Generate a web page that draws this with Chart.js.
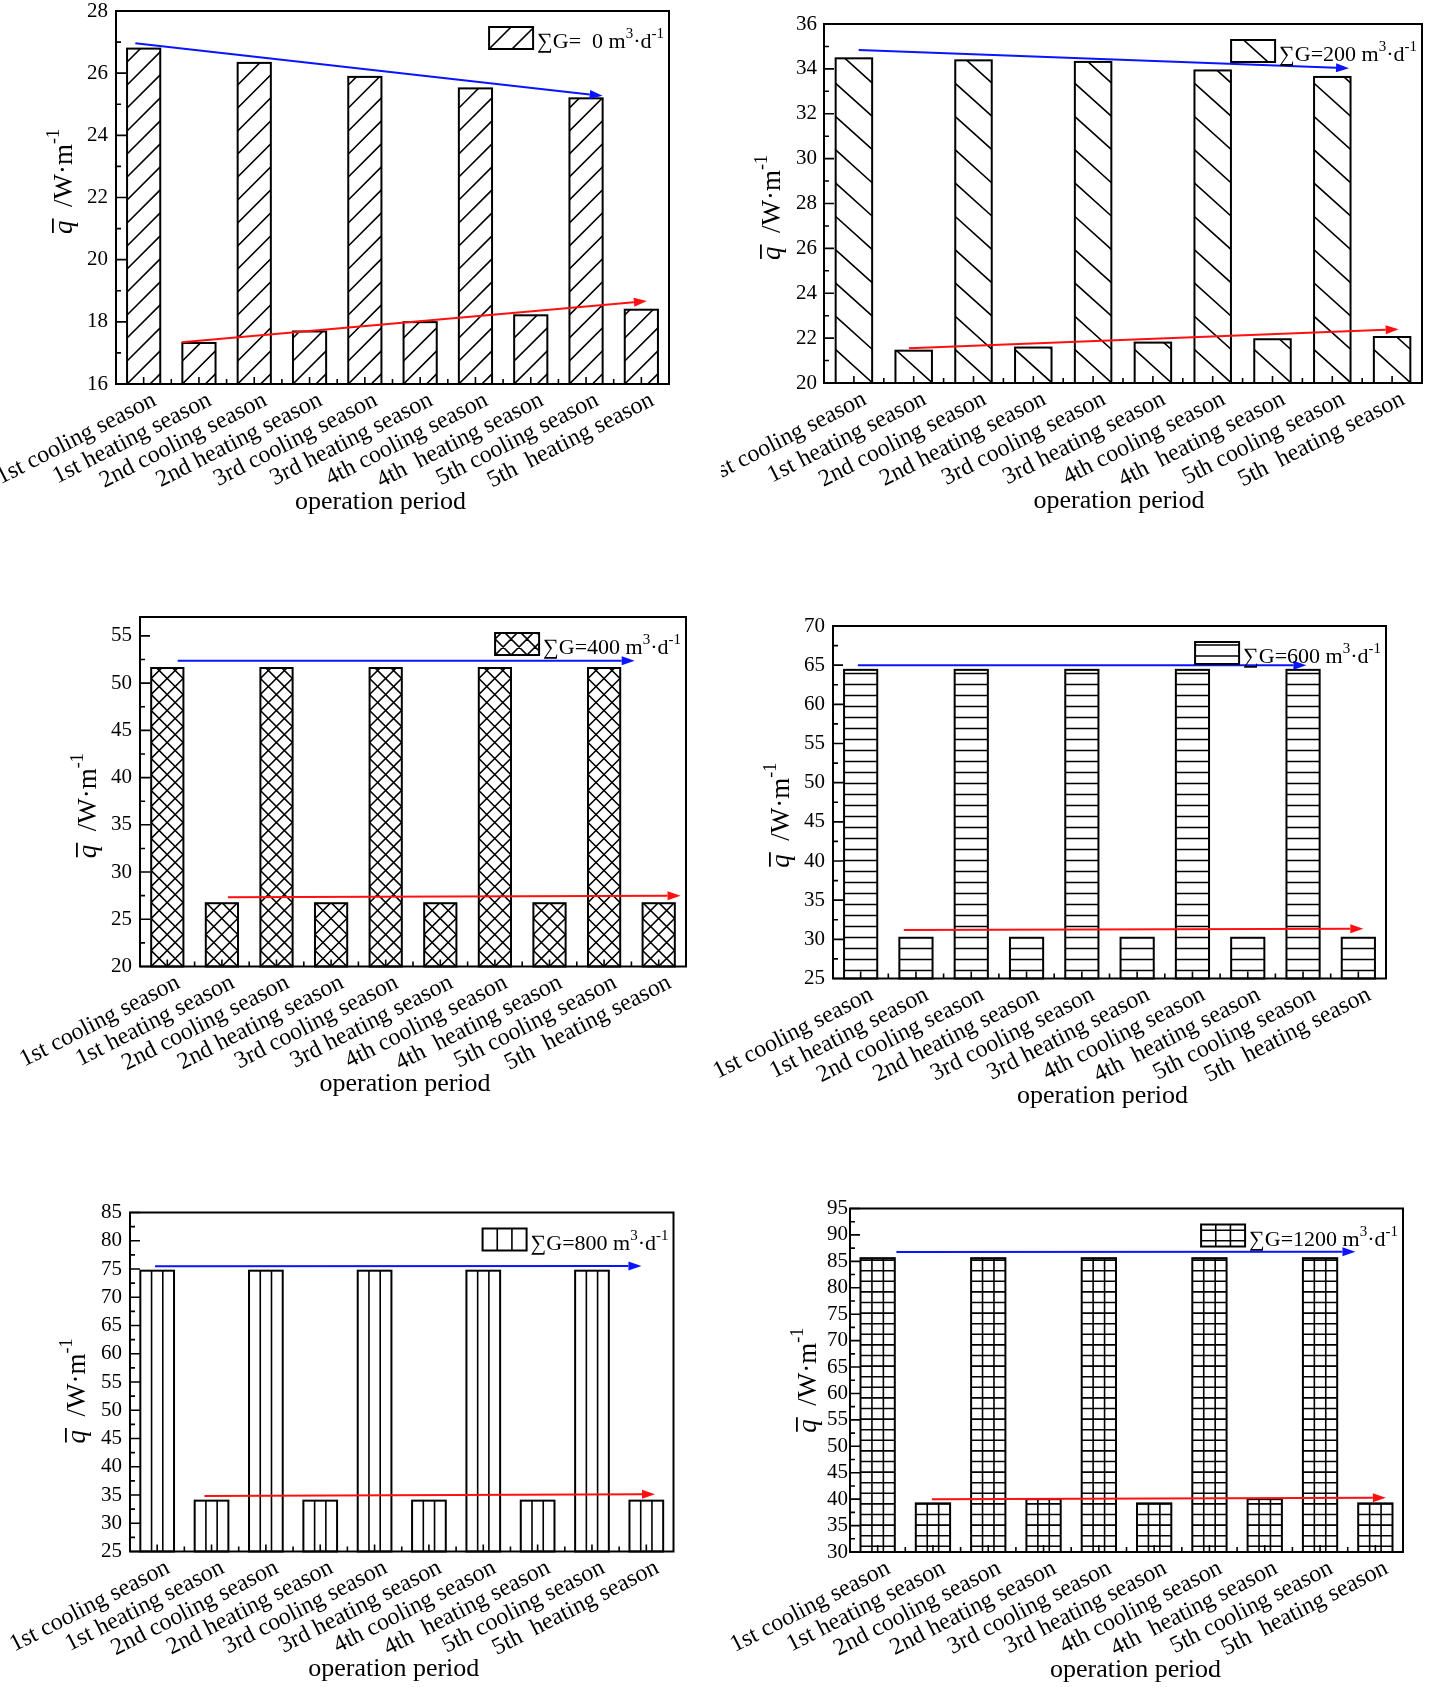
<!DOCTYPE html>
<html><head><meta charset="utf-8">
<script src="https://cdn.jsdelivr.net/npm/chart.js@4/dist/chart.umd.min.js"></script>
<style>
html,body{margin:0;padding:0;background:#fff;}
body{width:1431px;height:1687px;position:relative;overflow:hidden;}
canvas{position:absolute;}
</style></head><body>
<canvas id="c1"></canvas><canvas id="c2"></canvas><canvas id="c3"></canvas>
<canvas id="c4"></canvas><canvas id="c5"></canvas><canvas id="c6"></canvas>
<script>
// ---------------- DATA ----------------
const categories = ['1st cooling season','1st heating season','2nd cooling season','2nd heating season','3rd cooling season','3rd heating season','4th cooling season','4th  heating season','5th cooling season','5th  heating season'];

const values0    = [26.79,17.32,26.33,17.69,25.88,17.99,25.51,18.21,25.19,18.39];
const values200  = [34.47,21.44,34.38,21.58,34.31,21.80,33.93,21.95,33.64,22.05];
const values400  = [51.6,26.7,51.6,26.7,51.6,26.7,51.6,26.7,51.6,26.7];
const values600  = [64.4,30.2,64.4,30.2,64.4,30.2,64.4,30.2,64.4,30.2];
const values800  = [74.7,34.0,74.7,34.0,74.7,34.0,74.7,34.0,74.7,34.0];
const values1200 = [85.6,39.2,85.6,40.0,85.6,39.2,85.6,40.0,85.6,39.2];

const yTicks0    = [16,18,20,22,24,26,28];
const yTicks200  = [20,22,24,26,28,30,32,34,36];
const yTicks400  = [20,25,30,35,40,45,50,55];
const yTicks600  = [25,30,35,40,45,50,55,60,65,70];
const yTicks800  = [25,30,35,40,45,50,55,60,65,70,75,80,85];
const yTicks1200 = [30,35,40,45,50,55,60,65,70,75,80,85,90,95];

const yRange0 = [16,28], yRange200 = [20,36], yRange400 = [20,57],
      yRange600 = [25,70], yRange800 = [25,85], yRange1200 = [30,95];

const legendG = ['∑G=  0','∑G=200','∑G=400','∑G=600','∑G=800','∑G=1200'];
const legendUnit = [' m','3','·d','-1'];
const xTitle = 'operation period';
const yTitle = ['q','  /W·m','-1'];

// trend arrows: [category index start, value start, category index end, value end]
const blueArrow0 = [-0.15,26.96,8.30,25.27],  redArrow0 = [0.69,17.34,9.10,18.67];
const blueArrow200 = [0.08,34.84,8.28,34.03], redArrow200 = [0.92,21.55,9.11,22.40];
const blueArrow400 = [0.19,52.37,8.56,52.37], redArrow400 = [1.11,27.32,9.40,27.50];
const blueArrow600 = [-0.05,64.98,8.06,65.0], redArrow600 = [0.78,31.19,9.09,31.36];
const blueArrow800 = [-0.04,75.48,8.91,75.55],redArrow800 = [0.87,34.82,9.16,35.12];
const blueArrow1200= [0.34,86.76,8.64,86.80], redArrow1200= [0.98,39.97,9.19,40.27];

// ---------------- LAYOUT / STYLE ----------------
const FONT = '"Liberation Serif","Times New Roman",serif';
const Y_W = 45, X_H = 108;
const panels = [
 {id:'c1', canvas:[0,0,705,560],     area:[116,11,669,384],      values:values0,   yr:yRange0,   ticks:yTicks0,   pattern:'fwd',   legend:legendG[0], blue:blueArrow0,   red:redArrow0,   yT:[-44,-16], xT:-12, bp:0.60, tp:8},
 {id:'c2', canvas:[721,0,710,560],   area:[824,24,1422,383],     values:values200, yr:yRange200, ticks:yTicks200, pattern:'back',  legend:legendG[1], blue:blueArrow200, red:redArrow200, yT:[-44,4],   xT:-4,  bp:0.61, tp:7},
 {id:'c3', canvas:[0,560,705,580],   area:[140,617,686,966.5],   values:values400, yr:yRange400, ticks:yTicks400, pattern:'cross', legend:legendG[2], blue:blueArrow400, red:redArrow400, yT:[-44,14],  xT:-8,  bp:0.59, tp:8},
 {id:'c4', canvas:[700,560,731,580], area:[833,626,1386,978.5],  values:values600, yr:yRange600, ticks:yTicks600, pattern:'hline', legend:legendG[3], blue:blueArrow600, red:redArrow600, yT:[-44,13],  xT:-7,  bp:0.60, tp:8},
 {id:'c5', canvas:[0,1140,705,547],  area:[130,1212.5,673.5,1551.5], values:values800, yr:yRange800, ticks:yTicks800, pattern:'vline', legend:legendG[4], blue:blueArrow800, red:redArrow800, yT:[-45,9], xT:-8, bp:0.62, tp:8},
 {id:'c6', canvas:[700,1140,731,547],area:[850,1208.5,1403,1552], values:values1200,yr:yRange1200,ticks:yTicks1200,pattern:'grid', legend:legendG[5], blue:blueArrow1200,red:redArrow1200,yT:[-34,0],  xT:9,   bp:0.62, tp:2}
];

function drawPattern(ctx, type, l, t, r, b, anchorB) {
  ctx.save();
  ctx.beginPath(); ctx.rect(l, t, r - l, b - t); ctx.clip();
  ctx.strokeStyle = '#000'; ctx.lineWidth = 1.6;
  ctx.beginPath();
  const w = r - l;
  if (type === 'fwd' || type === 'back' || type === 'cross') {
    const dirs = type === 'fwd' ? [-1] : type === 'back' ? [1] : [-1, 1];
    const s = type === 'fwd' ? 23 : type === 'back' ? 33.3 : 16;
    const slope = type === 'back' ? 0.9 : 1;
    const span = slope * w;
    for (const d of dirs) {
      const cMin = d < 0 ? t : t - span;
      const cMax = d < 0 ? b + span : b;
      let c = anchorB - Math.ceil((anchorB - cMin) / s) * s;
      for (; c <= cMax + 0.01; c += s) { ctx.moveTo(l, c); ctx.lineTo(r, c + d * span); }
    }
  }
  if (type === 'hline' || type === 'grid') {
    const sp = type === 'hline' ? 11 : 10.6, off = type === 'hline' ? 8 : 5.7;
    for (let y = anchorB - off; y > t; y -= sp) { ctx.moveTo(l, y); ctx.lineTo(r, y); }
  }
  if (type === 'vline' || type === 'grid') {
    for (let i = 1; i < 3; i++) { const x = l + w * i / 3; ctx.moveTo(x, t); ctx.lineTo(x, b); }
  }
  ctx.stroke();
  ctx.restore();
}

function arrow(ctx, x0, y0, x1, y1, color) {
  const ang = Math.atan2(y1 - y0, x1 - x0), hl = 13, hw = 4.5;
  const bx = x1 - hl * Math.cos(ang), by = y1 - hl * Math.sin(ang);
  ctx.save();
  ctx.strokeStyle = color; ctx.fillStyle = color; ctx.lineWidth = 2;
  ctx.beginPath(); ctx.moveTo(x0, y0); ctx.lineTo(bx, by); ctx.stroke();
  ctx.beginPath(); ctx.moveTo(x1, y1);
  ctx.lineTo(bx - hw * Math.sin(ang), by + hw * Math.cos(ang));
  ctx.lineTo(bx + hw * Math.sin(ang), by - hw * Math.cos(ang));
  ctx.closePath(); ctx.fill();
  ctx.restore();
}

const deco = {
  id: 'deco',
  afterDatasetsDraw(chart, args, opts) {
    const p = opts.p, ctx = chart.ctx, ca = chart.chartArea;
    const meta = chart.getDatasetMeta(0);
    meta.data.forEach(el => {
      const l = el.x - el.width / 2, r = el.x + el.width / 2;
      const t = Math.min(el.y, el.base), b = Math.min(Math.max(el.y, el.base), ca.bottom);
      drawPattern(ctx, p.pattern, l, t, r, b, ca.bottom);
      ctx.save(); ctx.strokeStyle = '#000'; ctx.lineWidth = 2;
      ctx.strokeRect(l, t, r - l, b - t); ctx.restore();
    });
  },
  afterDraw(chart, args, opts) {
    const p = opts.p, ctx = chart.ctx, ca = chart.chartArea;
    const xs = chart.scales.x, ys = chart.scales.y;
    // arrows
    arrow(ctx, xs.getPixelForValue(p.blue[0]), ys.getPixelForValue(p.blue[1]), xs.getPixelForValue(p.blue[2]), ys.getPixelForValue(p.blue[3]), '#0a14ff');
    arrow(ctx, xs.getPixelForValue(p.red[0]), ys.getPixelForValue(p.red[1]), xs.getPixelForValue(p.red[2]), ys.getPixelForValue(p.red[3]), '#ff1010');
    // frame
    ctx.save();
    ctx.strokeStyle = '#000'; ctx.lineWidth = 2;
    ctx.strokeRect(ca.left, ca.top, ca.right - ca.left, ca.bottom - ca.top);
    // y ticks (inward)
    ctx.lineWidth = 1.6; ctx.beginPath();
    const tk = p.ticks;
    for (let i = 0; i < tk.length; i++) {
      const y = ys.getPixelForValue(tk[i]);
      ctx.moveTo(ca.left, y); ctx.lineTo(ca.left + 10, y);
      const mid = i < tk.length - 1 ? (tk[i] + tk[i + 1]) / 2 : tk[i] + (tk[1] - tk[0]) / 2;
      if (mid < p.yr[1]) { const ym = ys.getPixelForValue(mid); ctx.moveTo(ca.left, ym); ctx.lineTo(ca.left + 5, ym); }
    }
    // x ticks
    for (let i = 0; i < categories.length; i++) {
      const x = xs.getPixelForValue(i);
      ctx.moveTo(x, ca.bottom); ctx.lineTo(x, ca.bottom - 7);
      if (i < categories.length - 1) { const xm = xs.getPixelForValue(i + 0.5); ctx.moveTo(xm, ca.bottom); ctx.lineTo(xm, ca.bottom - 5); }
    }
    ctx.stroke();
    ctx.restore();
    // legend
    const mainF = '22px ' + FONT, supF = '15px ' + FONT;
    const parts = [[p.legend + legendUnit[0], mainF, 0], [legendUnit[1], supF, -10], [legendUnit[2], mainF, 0], [legendUnit[3], supF, -10]];
    ctx.save();
    let total = 0;
    parts.forEach(pt => { ctx.font = pt[1]; pt.push(ctx.measureText(pt[0]).width); total += pt[3]; });
    let x = ca.right - 5 - total;
    const base = ca.top + 37;
    const sw = [x - 48, ca.top + 16, 44, 22];
    ctx.fillStyle = '#fff'; ctx.fillRect(sw[0], sw[1], sw[2], sw[3]);
    drawPattern(ctx, p.pattern, sw[0], sw[1], sw[0] + sw[2], sw[1] + sw[3], sw[1] + sw[3]);
    ctx.strokeStyle = '#000'; ctx.lineWidth = 2; ctx.strokeRect(sw[0], sw[1], sw[2], sw[3]);
    ctx.fillStyle = '#000'; ctx.textBaseline = 'alphabetic'; ctx.textAlign = 'left';
    parts.forEach(pt => { ctx.font = pt[1]; ctx.fillText(pt[0], x, base + pt[2]); x += pt[3]; });
    // x title
    ctx.font = '26px ' + FONT; ctx.textAlign = 'center'; ctx.textBaseline = 'middle';
    ctx.fillText(xTitle, (ca.left + ca.right) / 2 + p.xT, ca.bottom + 118);
    ctx.restore();
    // y title
    ctx.save();
    ctx.translate(ca.left + p.yT[0], (ca.top + ca.bottom) / 2 + p.yT[1]);
    ctx.rotate(-Math.PI / 2);
    const fIt = 'italic 27px ' + FONT, fMain = '27px ' + FONT, fSup = '18px ' + FONT;
    ctx.font = fIt; const wq = ctx.measureText(yTitle[0]).width;
    ctx.font = fMain; const wm = ctx.measureText(yTitle[1]).width;
    ctx.font = fSup; const ws = ctx.measureText(yTitle[2]).width;
    let tx = -(wq + wm + ws) / 2;
    ctx.fillStyle = '#000'; ctx.textBaseline = 'alphabetic'; ctx.textAlign = 'left';
    ctx.font = fIt; ctx.fillText(yTitle[0], tx, 0);
    ctx.fillRect(tx + 1, -20, wq + 1, 1.8);
    tx += wq; ctx.font = fMain; ctx.fillText(yTitle[1], tx, 0); tx += wm;
    ctx.font = fSup; ctx.fillText(yTitle[2], tx, -13);
    ctx.restore();
  }
};

panels.forEach(p => {
  const cv = document.getElementById(p.id);
  const [cx, cy, cw, ch] = p.canvas;
  cv.width = cw; cv.height = ch;
  cv.style.left = cx + 'px'; cv.style.top = cy + 'px';
  cv.style.width = cw + 'px'; cv.style.height = ch + 'px';
  const [L, T, R, B] = p.area;
  new Chart(cv.getContext('2d'), {
    type: 'bar',
    data: { labels: categories, datasets: [{ data: p.values, backgroundColor: '#fff', borderWidth: 0, barPercentage: p.bp, categoryPercentage: 1 }] },
    options: {
      responsive: false, animation: false, devicePixelRatio: 1,
      layout: { padding: { left: L - cx - Y_W, top: T - cy, right: cx + cw - R, bottom: cy + ch - B - X_H } },
      plugins: { legend: { display: false }, tooltip: { enabled: false }, deco: { p: p } },
      scales: {
        x: {
          grid: { display: false, drawTicks: false }, border: { display: false },
          ticks: { autoSkip: false, minRotation: 27, maxRotation: 27, padding: 2, labelOffset: 11, color: '#000', font: { family: FONT, size: 24 } },
          afterFit(s) { s.height = X_H; s.paddingLeft = 0; s.paddingRight = 0; }
        },
        y: {
          min: p.yr[0], max: p.yr[1],
          grid: { display: false, drawTicks: false }, border: { display: false },
          ticks: { padding: p.tp, color: '#000', includeBounds: false, autoSkip: false, font: { family: FONT, size: 21 } },
          afterBuildTicks(s) { s.ticks = p.ticks.map(v => ({ value: v })); },
          afterFit(s) { s.width = Y_W; s.paddingTop = 0; s.paddingBottom = 0; }
        }
      }
    },
    plugins: [deco]
  });
});
</script>
</body></html>
